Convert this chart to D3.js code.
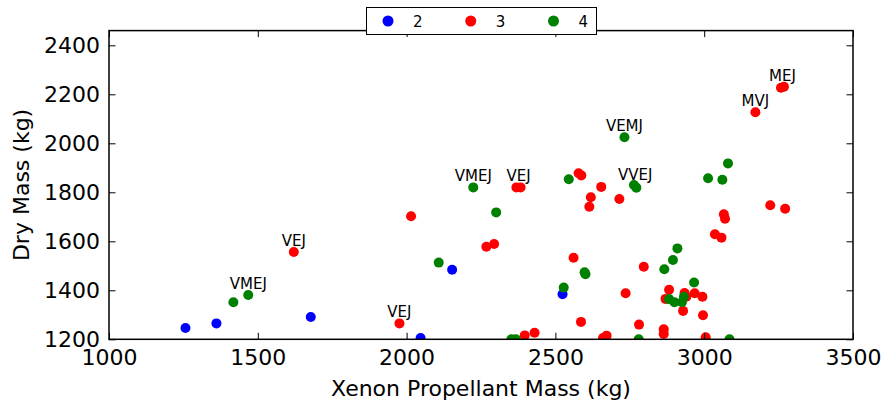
<!DOCTYPE html>
<html>
<head>
<meta charset="utf-8">
<script src="https://cdn.jsdelivr.net/npm/d3@7"></script>
<style>
  html, body { margin: 0; padding: 0; background: #fff; }
  svg { display: block; font-family: "DejaVu Sans", sans-serif; }
</style>
</head>
<body>
<svg id="chart" width="885" height="408"></svg>
<script>
// ---------------- data ----------------
const groupNames = ["2", "3", "4"];
const groupColors = ["#0000ff", "#ff0000", "#008000"];

// group "2" (blue)
const xenon2 = [1257, 1361, 1678, 2047, 2153, 2524];
const dry2   = [1246, 1265, 1291, 1205, 1484, 1384];

// group "3" (red)
const xenon3 = [1621, 1976, 2015, 2268, 2294, 2369, 2383, 2397, 2430, 2561,
                2578, 2587, 2586, 2614, 2619, 2654, 2660, 2672, 2715, 2736,
                2781, 2797, 2864, 2864, 2870, 2882, 2929, 2934, 2940, 2968,
                2994, 2996, 3005, 3036, 3058, 3066, 3070, 3172, 3222, 3272,
                3258, 3268];
const dry3   = [1556, 1265, 1702, 1578, 1589, 1820, 1820, 1216, 1227, 1533,
                1878, 1869, 1271, 1741, 1780, 1822, 1205, 1215, 1773, 1388,
                1260, 1496, 1241, 1222, 1365, 1402, 1316, 1389, 1374, 1388,
                1374, 1298, 1208, 1629, 1615, 1710, 1692, 2127, 1747, 1733,
                2227, 2231];

// group "4" (green)
const xenon4 = [1418, 1468, 2108, 2224, 2301, 2352, 2367, 2528, 2545, 2598,
                2601, 2732, 2764, 2772, 2780, 2866, 2882, 2895, 2900, 2910,
                2925, 2932, 2966, 3013, 3061, 3080, 3085];
const dry4   = [1351, 1381, 1513, 1820, 1718, 1200, 1200, 1411, 1853, 1474,
                1466, 2025, 1830, 1819, 1200, 1486, 1364, 1524, 1351, 1571,
                1351, 1374, 1432, 1857, 1851, 1918, 1200];

// annotations: label text and the data point it marks
const annoLabels = ["VMEJ", "VEJ", "VEJ", "VMEJ", "VEJ", "VEMJ", "VVEJ", "MVJ", "MEJ"];
const annoX      = [1468, 1621, 1976, 2224, 2376, 2732, 2768, 3172, 3263];
const annoY      = [1381, 1556, 1265, 1820, 1820, 2025, 1825, 2127, 2229];

const xTicks = [1000, 1500, 2000, 2500, 3000, 3500];
const yTicks = [1200, 1400, 1600, 1800, 2000, 2200, 2400];
const xLabel = "Xenon Propellant Mass (kg)";
const yLabel = "Dry Mass (kg)";

// ---------------- layout ----------------
const L = 109, R = 853, T = 30.6, B = 339.3;
const svg = d3.select("#chart");
const x = d3.scaleLinear().domain([1000, 3500]).range([L, R]);
const y = d3.scaleLinear().domain([1200, 2460]).range([B, T]);

const groups = [
  { name: groupNames[0], color: groupColors[0], xs: xenon2, ys: dry2 },
  { name: groupNames[1], color: groupColors[1], xs: xenon3, ys: dry3 },
  { name: groupNames[2], color: groupColors[2], xs: xenon4, ys: dry4 }
];

svg.append("defs").append("clipPath").attr("id", "plotclip")
  .append("rect").attr("x", L).attr("y", T).attr("width", R - L).attr("height", B - T);

const pts = svg.append("g").attr("clip-path", "url(#plotclip)");
groups.forEach(g => {
  pts.append("g").selectAll("circle")
    .data(g.xs.map((v, i) => [v, g.ys[i]]))
    .join("circle")
    .attr("cx", d => x(d[0]))
    .attr("cy", d => y(d[1]))
    .attr("r", 5)
    .attr("fill", g.color);
});

// annotations
svg.append("g").selectAll("text")
  .data(annoLabels.map((t, i) => ({ t, x: annoX[i], y: annoY[i] })))
  .join("text")
  .attr("x", d => x(d.x))
  .attr("y", d => y(d.y) - 6)
  .attr("text-anchor", "middle")
  .attr("font-size", 15)
  .attr("fill", "#000")
  .text(d => d.t);

// axes (ticks inside, matplotlib classic style)
const tickLen = 6.5;
const axB = svg.append("g").attr("transform", `translate(0,${B})`)
  .call(d3.axisBottom(x).tickValues(xTicks).tickSizeInner(-tickLen).tickSizeOuter(0).tickPadding(tickLen + 3.5).tickFormat(d3.format("d")));
const axT = svg.append("g").attr("transform", `translate(0,${T})`)
  .call(d3.axisTop(x).tickValues(xTicks).tickSizeInner(-tickLen).tickSizeOuter(0).tickFormat(""));
const axLf = svg.append("g").attr("transform", `translate(${L},0)`)
  .call(d3.axisLeft(y).tickValues(yTicks).tickSizeInner(-tickLen).tickSizeOuter(0).tickPadding(tickLen + 2.5).tickFormat(d3.format("d")));
const axRt = svg.append("g").attr("transform", `translate(${R},0)`)
  .call(d3.axisRight(y).tickValues(yTicks).tickSizeInner(-tickLen).tickSizeOuter(0).tickFormat(""));

[axB, axT, axLf, axRt].forEach(a => {
  a.select(".domain").remove();
  a.selectAll(".tick line").attr("stroke", "#000").attr("stroke-width", 1);
  a.selectAll(".tick text").attr("font-size", 22).attr("fill", "#000")
    .attr("font-family", "DejaVu Sans, sans-serif");
});
axB.selectAll(".tick text").attr("dy", "0.71em");

// frame
svg.append("rect").attr("x", L).attr("y", T).attr("width", R - L).attr("height", B - T)
  .attr("fill", "none").attr("stroke", "#000").attr("stroke-width", 1.5);

// axis labels
svg.append("text").attr("x", (L + R) / 2).attr("y", 396)
  .attr("text-anchor", "middle").attr("font-size", 22).text(xLabel);
svg.append("text").attr("transform", `translate(29,${(T + B) / 2}) rotate(-90)`)
  .attr("text-anchor", "middle").attr("font-size", 22).text(yLabel);

// legend
const lg = svg.append("g");
lg.append("rect").attr("x", 366.5).attr("y", 7.5).attr("width", 230).attr("height", 27)
  .attr("fill", "#fff").attr("stroke", "#000").attr("stroke-width", 1);
const legX = d3.scalePoint().domain(groupNames).range([388, 553.5]);
groups.forEach(g => {
  lg.append("circle").attr("cx", legX(g.name)).attr("cy", 21).attr("r", 5.5).attr("fill", g.color);
  lg.append("text").attr("x", legX(g.name) + 25).attr("y", 26.7)
    .attr("font-size", 15).attr("fill", "#000").text(g.name);
});
</script>
</body>
</html>
